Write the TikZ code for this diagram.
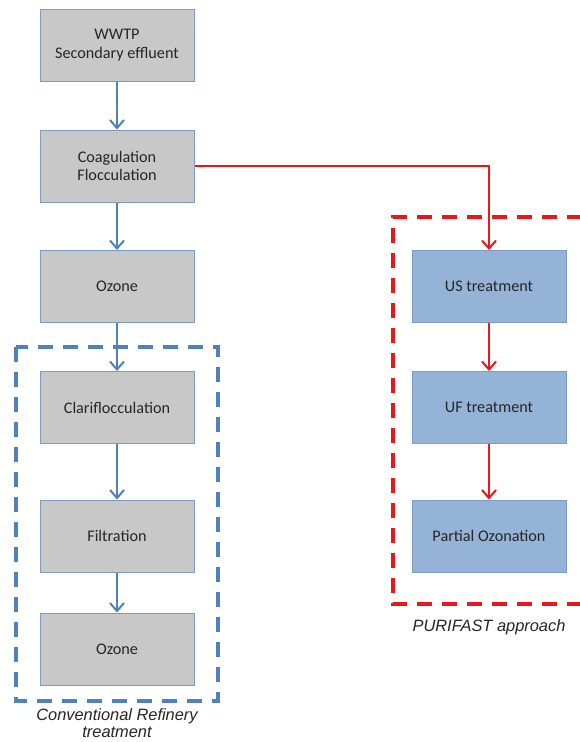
\documentclass[tikz,border=0pt]{standalone}
\usepackage{fontspec}
\setmainfont{Carlito}
\newfontfamily\arialfont{Liberation Sans}
\usetikzlibrary{arrows.meta}
\definecolor{boxgray}{HTML}{C8C8C8}
\definecolor{boxblue}{HTML}{95B3D7}
\definecolor{edgeblue}{HTML}{7D9BC3}
\definecolor{arrblue}{HTML}{4F81BD}
\definecolor{dashblue}{HTML}{4F81BD}
\definecolor{arrred}{HTML}{E8171B}
\begin{document}
\begin{tikzpicture}[x=1pt,y=-1pt,
  proc/.style={draw=edgeblue, line width=1pt, minimum width=154pt, minimum height=72pt,
     inner sep=2pt, align=center, font=\fontsize{16.2}{18.5}\selectfont, text=black!85},
  grayproc/.style={proc, fill=boxgray},
  blueproc/.style={proc, fill=boxblue},
  bluearr/.style={draw=arrblue, line width=2pt, -{Straight Barb[length=8pt,width=14pt,line width=2pt]}},
  redarr/.style={draw=arrred, line width=2pt, -{Straight Barb[length=8pt,width=14pt,line width=2pt]}},
  groupline/.style={line width=4.5pt, dash pattern=on 15pt off 10pt},
  caption/.style={font=\arialfont\itshape\fontsize{16.4}{17.5}\selectfont, text=black!85, align=center, inner sep=1pt}]
\useasboundingbox (0,0) rectangle (579,742);
\fill[white] (0,0) rectangle (579,742);
% left column
\node[grayproc] (wwtp) at (117,45) {WWTP\\Secondary effluent};
\node[grayproc] (coag) at (117,166) {Coagulation\\Flocculation};
\node[grayproc] (ozone1) at (117,286.5) {Ozone};
\node[grayproc] (clari) at (117,407.5) {Clariflocculation};
\node[grayproc] (filt) at (117,536) {Filtration};
\node[grayproc] (ozone2) at (117,649) {Ozone};
% right column
\node[blueproc] (us) at (489,286.5) {US treatment};
\node[blueproc] (uf) at (489,407.5) {UF treatment};
\node[blueproc] (po) at (489,536) {Partial Ozonation};
% group frames
\draw[groupline, draw=dashblue] (16,347) rectangle (218,701);
\coordinate (rtop) at (582,217);
\coordinate (rtl) at (393,217);
\coordinate (rbl) at (393,604);
\coordinate (rbot) at (582,604);
\draw[groupline, draw=arrred] (rtop) -- (rtl) -- (rbl) -- (rbot);
% captions
\node[caption] (capl) at (117,723) {Conventional Refinery\\treatment};
\node[caption] (capr) at (489,627) {PURIFAST approach};
% connectors
\draw[bluearr] (wwtp) -- (coag);
\draw[bluearr] (coag) -- (ozone1);
\draw[bluearr] (ozone1) -- (clari);
\draw[bluearr] (clari) -- (filt);
\draw[bluearr] (filt) -- (ozone2);
\draw[redarr] (coag.east) -| (us.north);
\draw[redarr] (us) -- (uf);
\draw[redarr] (uf) -- (po);
\end{tikzpicture}
\end{document}
